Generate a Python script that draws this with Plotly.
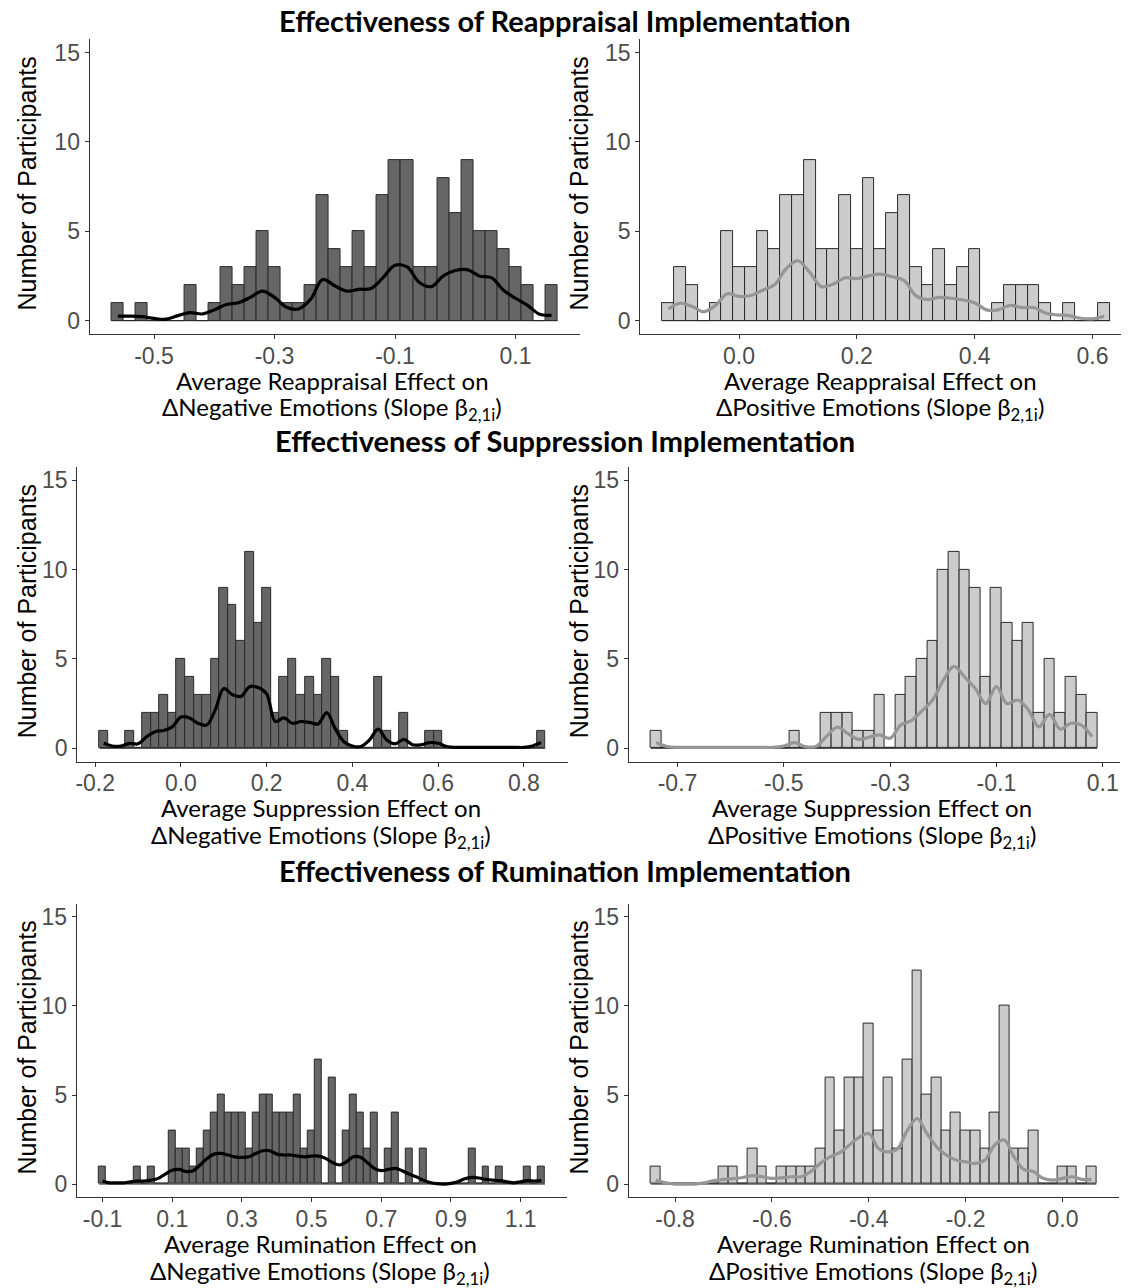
import plotly.graph_objects as go

# page body has an 8px default margin: the figure is smaller than the window
PAGE_W, PAGE_H = 1129, 1288
OFF = 8
W, H = PAGE_W - OFF, PAGE_H - OFF
BIN_WIDTH = 0.02

# ---------------- data ----------------
# Reappraisal -> negative emotions
reap_neg_start = -0.57
reap_neg_counts = [1, 0, 1, 0, 0, 0, 2, 0, 1, 3, 2, 3, 5, 3, 1, 1, 2, 7, 4, 3,
                   5, 3, 7, 9, 9, 3, 3, 8, 6, 9, 5, 5, 4, 3, 2, 0, 2]
reap_neg_density = [0.25, 0.25, 0.22, 0.12, 0.08, 0.28, 0.45, 0.37, 0.6, 0.9,
                    1.0, 1.3, 1.65, 1.3, 0.75, 0.65, 1.2, 2.3, 1.95, 1.65,
                    1.75, 1.8, 2.4, 3.1, 3.0, 2.15, 1.9, 2.5, 2.8, 2.85,
                    2.5, 2.4, 1.7, 1.25, 0.85, 0.35, 0.3]
reap_neg_ticks = [-0.5, -0.3, -0.1, 0.1]
reap_neg_ticklabels = ["-0.5", "-0.3", "-0.1", "0.1"]

# Reappraisal -> positive emotions
reap_pos_start = -0.13
reap_pos_counts = [1, 3, 2, 0, 1, 5, 3, 3, 5, 4, 7, 7, 9, 4, 4, 7, 4, 8, 4, 6,
                   7, 3, 2, 4, 2, 3, 4, 0, 1, 2, 2, 2, 1, 0, 1, 0, 0, 1]
reap_pos_density = [0.65, 0.97, 0.8, 0.5, 0.85, 1.5, 1.35, 1.4, 1.7, 2.0,
                    2.9, 3.35, 2.7, 1.9, 2.05, 2.4, 2.35, 2.5, 2.6, 2.45,
                    2.25, 1.4, 1.18, 1.3, 1.25, 1.15, 1.0, 0.6, 0.6, 0.85,
                    0.73, 0.73, 0.43, 0.32, 0.28, 0.13, 0.1, 0.24]
reap_pos_ticks = [0.0, 0.2, 0.4, 0.6]
reap_pos_ticklabels = ["0.0", "0.2", "0.4", "0.6"]

# Suppression -> negative emotions
supp_neg_start = -0.19
supp_neg_counts = [1, 0, 0, 1, 0, 2, 2, 3, 2, 5, 4, 3, 3, 5, 9, 8, 6, 11, 7, 9,
                   2, 4, 5, 3, 4, 3, 5, 4, 1, 0, 0, 0, 4, 1, 0, 2, 0, 0, 1, 1,
                   0, 0, 0, 0, 0, 0, 0, 0, 0, 0, 0, 1]
supp_neg_density = [0.28, 0.13, 0.13, 0.28, 0.25, 0.65, 0.93, 1.0, 1.2, 1.75,
                    1.7, 1.4, 1.3, 2.15, 3.35, 3.0, 2.9, 3.45, 3.4, 3.05,
                    1.5, 1.7, 1.4, 1.5, 1.45, 1.36, 2.0, 1.1, 0.37, 0.13,
                    0.1, 0.47, 1.07, 0.47, 0.25, 0.5, 0.2, 0.2, 0.32, 0.28,
                    0.1, 0.05, 0.05, 0.05, 0.05, 0.05, 0.05, 0.05, 0.05, 0.05,
                    0.13, 0.32]
supp_neg_ticks = [-0.2, 0.0, 0.2, 0.4, 0.6, 0.8]
supp_neg_ticklabels = ["-0.2", "0.0", "0.2", "0.4", "0.6", "0.8"]

# Suppression -> positive emotions
supp_pos_start = -0.75
supp_pos_counts = [1, 0, 0, 0, 0, 0, 0, 0, 0, 0, 0, 0, 0, 1, 0, 0, 2, 2, 2, 1,
                   1, 3, 0, 3, 4, 5, 6, 10, 11, 10, 9, 4, 9, 7, 6, 7, 2, 5, 2, 4,
                   3, 2]
supp_pos_density = [0.32, 0.1, 0.05, 0.05, 0.05, 0.05, 0.05, 0.05, 0.05, 0.05,
                    0.05, 0.05, 0.13, 0.32, 0.1, 0.1, 0.65, 1.18, 0.84, 0.5,
                    0.62, 0.75, 0.56, 1.3, 1.55, 2.1, 2.7, 3.8, 4.58, 4.0,
                    3.36, 2.5, 3.45, 2.5, 2.7, 2.15, 1.2, 1.9, 1.07, 1.4,
                    1.3, 0.65]
supp_pos_ticks = [-0.7, -0.5, -0.3, -0.1, 0.1]
supp_pos_ticklabels = ["-0.7", "-0.5", "-0.3", "-0.1", "0.1"]

# Rumination -> negative emotions
rum_neg_start = -0.11
rum_neg_counts = [1, 0, 0, 0, 0, 1, 0, 1, 0, 0, 3, 2, 2, 1, 2, 3, 4, 5, 4, 4,
                  4, 2, 4, 5, 5, 4, 4, 4, 5, 2, 3, 7, 0, 6, 0, 3, 5, 4, 2, 4,
                  0, 2, 4, 0, 2, 0, 2, 0, 0, 0, 0, 0, 0, 2, 0, 1, 0, 1, 0, 0,
                  0, 1, 0, 1]
rum_neg_density = [0.17, 0.07, 0.07, 0.07, 0.13, 0.17, 0.17, 0.22, 0.32, 0.56,
                   0.78, 0.82, 0.7, 0.75, 1.07, 1.44, 1.68, 1.72, 1.63, 1.53,
                   1.5, 1.53, 1.72, 1.87, 1.87, 1.68, 1.63, 1.63, 1.57, 1.53,
                   1.57, 1.57, 1.44, 1.21, 1.07, 1.25, 1.53, 1.5, 1.21, 0.88,
                   0.75, 0.82, 0.88, 0.75, 0.56, 0.41, 0.22, 0.09, 0.02, 0.0,
                   0.04, 0.13, 0.3, 0.37, 0.34, 0.26, 0.22, 0.19, 0.13, 0.07,
                   0.13, 0.19, 0.17, 0.19]
rum_neg_ticks = [-0.1, 0.1, 0.3, 0.5, 0.7, 0.9, 1.1]
rum_neg_ticklabels = ["-0.1", "0.1", "0.3", "0.5", "0.7", "0.9", "1.1"]

# Rumination -> positive emotions
rum_pos_start = -0.85
rum_pos_counts = [1, 0, 0, 0, 0, 0, 0, 1, 1, 0, 2, 1, 0, 1, 1, 1, 1, 2, 6, 3,
                  6, 6, 9, 3, 6, 2, 7, 12, 5, 6, 3, 4, 3, 3, 2, 4, 10, 2, 2, 3,
                  0, 0, 1, 1, 0, 1]
rum_pos_density = [0.22, 0.07, 0.0, 0.0, 0.0, 0.07, 0.19, 0.26, 0.3, 0.37,
                   0.47, 0.41, 0.32, 0.35, 0.41, 0.41, 0.7, 1.16, 1.53, 1.76,
                   2.19, 2.62, 2.84, 2.0, 1.81, 2.0, 3.03, 3.68, 2.84, 2.09,
                   1.63, 1.35, 1.25, 1.16, 1.35, 2.19, 2.47, 1.53, 0.82, 0.7,
                   0.32, 0.22, 0.32, 0.41, 0.26, 0.26]
rum_pos_ticks = [-0.8, -0.6, -0.4, -0.2, 0.0]
rum_pos_ticklabels = ["-0.8", "-0.6", "-0.4", "-0.2", "0.0"]

y_ticks = [0, 5, 10, 15]
section_titles = ["Effectiveness of Reappraisal Implementation",
                  "Effectiveness of Suppression Implementation",
                  "Effectiveness of Rumination Implementation"]
y_title = "Number of Participants"

# ---------------- styles / layout ----------------
DARK_FILL, LIGHT_FILL = "#666666", "#CCCCCC"
DARK_LINE, LIGHT_LINE = "#000000", "#969696"
OUTLINE = "#2a2a2a"
TICK_FONT = dict(family="Liberation Sans, Arial, sans-serif", size=23, color="#4D4D4D")
TITLE_FONT = dict(family="Lato, Carlito, sans-serif", size=24, color="#000000")
YT_FONT = dict(family="Liberation Sans, Arial, sans-serif", size=25, color="#000000")
SEC_FONT = dict(family="Lato, Carlito, sans-serif", size=29, color="#000000")

# panel rectangles in page pixels (left, right, top, bottom)
panels = [
    dict(start=reap_neg_start, counts=reap_neg_counts, dens=reap_neg_density,
         ticks=reap_neg_ticks, labels=reap_neg_ticklabels, dark=True,
         strategy="Reappraisal", emo="Negative",
         px=(87.7, 579.0, 39.1, 334.0), xr=(-0.607, 0.207), tx=331),
    dict(start=reap_pos_start, counts=reap_pos_counts, dens=reap_pos_density,
         ticks=reap_pos_ticks, labels=reap_pos_ticklabels, dark=False,
         strategy="Reappraisal", emo="Positive",
         px=(639.2, 1129.0, 39.1, 334.0), xr=(-0.168, 0.662), tx=880),
    dict(start=supp_neg_start, counts=supp_neg_counts, dens=supp_neg_density,
         ticks=supp_neg_ticks, labels=supp_neg_ticklabels, dark=True,
         strategy="Suppression", emo="Negative",
         px=(75.3, 566.6, 466.9, 761.7), xr=(-0.242, 0.902), tx=320),
    dict(start=supp_pos_start, counts=supp_pos_counts, dens=supp_pos_density,
         ticks=supp_pos_ticks, labels=supp_pos_ticklabels, dark=False,
         strategy="Suppression", emo="Positive",
         px=(627.7, 1119.7, 466.9, 761.7), xr=(-0.792, 0.132), tx=872),
    dict(start=rum_neg_start, counts=rum_neg_counts, dens=rum_neg_density,
         ticks=rum_neg_ticks, labels=rum_neg_ticklabels, dark=True,
         strategy="Rumination", emo="Negative",
         px=(74.9, 566.3, 903.6, 1197.4), xr=(-0.174, 1.234), tx=319),
    dict(start=rum_pos_start, counts=rum_pos_counts, dens=rum_pos_density,
         ticks=rum_pos_ticks, labels=rum_pos_ticklabels, dark=False,
         strategy="Rumination", emo="Positive",
         px=(627.7, 1118.6, 903.6, 1197.4), xr=(-0.896, 0.116), tx=873),
]

fig = go.Figure()
annotations = []
layout_axes = {}

def px_x(v):
    return min(1.0, max(0.0, (v - OFF) / W))

def px_y(v):
    return min(1.0, max(0.0, 1 - (v - OFF) / H))

for i, p in enumerate(panels):
    n = i + 1
    xa = "x" if n == 1 else f"x{n}"
    ya = "y" if n == 1 else f"y{n}"
    nb = len(p["counts"])
    centers = [p["start"] + BIN_WIDTH * (k + 0.5) for k in range(nb)]
    # outline of empty bins (ggplot draws zero-count bins as a flat line)
    fig.add_trace(go.Scatter(
        x=[p["start"], p["start"] + BIN_WIDTH * nb], y=[0, 0], mode="lines",
        line=dict(color=OUTLINE, width=1), xaxis=xa, yaxis=ya,
        showlegend=False, hoverinfo="skip"))
    fig.add_trace(go.Bar(
        x=centers, y=p["counts"], width=BIN_WIDTH,
        marker=dict(color=DARK_FILL if p["dark"] else LIGHT_FILL,
                    line=dict(color=OUTLINE, width=1)),
        xaxis=xa, yaxis=ya, showlegend=False, hoverinfo="x+y"))
    fig.add_trace(go.Scatter(
        x=centers, y=p["dens"], mode="lines",
        line=dict(color=DARK_LINE if p["dark"] else LIGHT_LINE, width=3.2,
                  shape="spline", smoothing=1.0),
        xaxis=xa, yaxis=ya, showlegend=False, hoverinfo="skip"))

    l, r, t, b = p["px"]
    xkey = "xaxis" if n == 1 else f"xaxis{n}"
    ykey = "yaxis" if n == 1 else f"yaxis{n}"
    layout_axes[xkey] = dict(
        domain=[px_x(l), px_x(r)], range=list(p["xr"]), anchor=ya,
        tickmode="array", tickvals=p["ticks"], ticktext=p["labels"],
        showline=True, linecolor="#333333", linewidth=1,
        ticks="outside", ticklen=4, tickwidth=1, tickcolor="#333333",
        ticklabelstandoff=-3,
        tickfont=TICK_FONT, showgrid=False, zeroline=False, fixedrange=True)
    layout_axes[ykey] = dict(
        domain=[px_y(b), px_y(t)], range=[-0.75, 15.75], anchor=xa,
        tickmode="array", tickvals=y_ticks, ticktext=[str(v) for v in y_ticks],
        showline=True, linecolor="#333333", linewidth=1,
        ticks="outside", ticklen=4, tickwidth=1, tickcolor="#333333",
        tickfont=TICK_FONT, showgrid=False, zeroline=False, fixedrange=True)

    # x-axis title (two lines)
    line1_y = b + 46
    annotations.append(dict(
        text=f"Average {p['strategy']} Effect on", x=px_x(p["tx"]), y=px_y(line1_y),
        xref="paper", yref="paper", xanchor="center", yanchor="middle",
        showarrow=False, font=TITLE_FONT))
    annotations.append(dict(
        text=f"ΔNegative Emotions (Slope β<sub>2,1i</sub>)" if p["emo"] == "Negative"
        else f"ΔPositive Emotions (Slope β<sub>2,1i</sub>)",
        x=px_x(p["tx"]), y=px_y(line1_y + 29),
        xref="paper", yref="paper", xanchor="center", yanchor="middle",
        showarrow=False, font=TITLE_FONT))
    # y-axis title
    yt_x = 25 if p["dark"] else 578
    annotations.append(dict(
        text=y_title, x=px_x(yt_x), y=px_y((t + b) / 2 - 3),
        xref="paper", yref="paper", xanchor="center", yanchor="middle",
        textangle=-90, showarrow=False, font=YT_FONT))

for title, yc in zip(section_titles, [21, 440, 870]):
    annotations.append(dict(
        text=f"<b>{title}</b>", x=px_x(564), y=px_y(yc), xref="paper", yref="paper",
        xanchor="center", yanchor="middle", showarrow=False, font=SEC_FONT))

fig.update_layout(
    width=W, height=H, margin=dict(l=0, r=0, t=0, b=0),
    paper_bgcolor="white", plot_bgcolor="white",
    bargap=0, barmode="overlay", annotations=annotations, **layout_axes)

fig.write_html("out.html", config={"displayModeBar": False})
